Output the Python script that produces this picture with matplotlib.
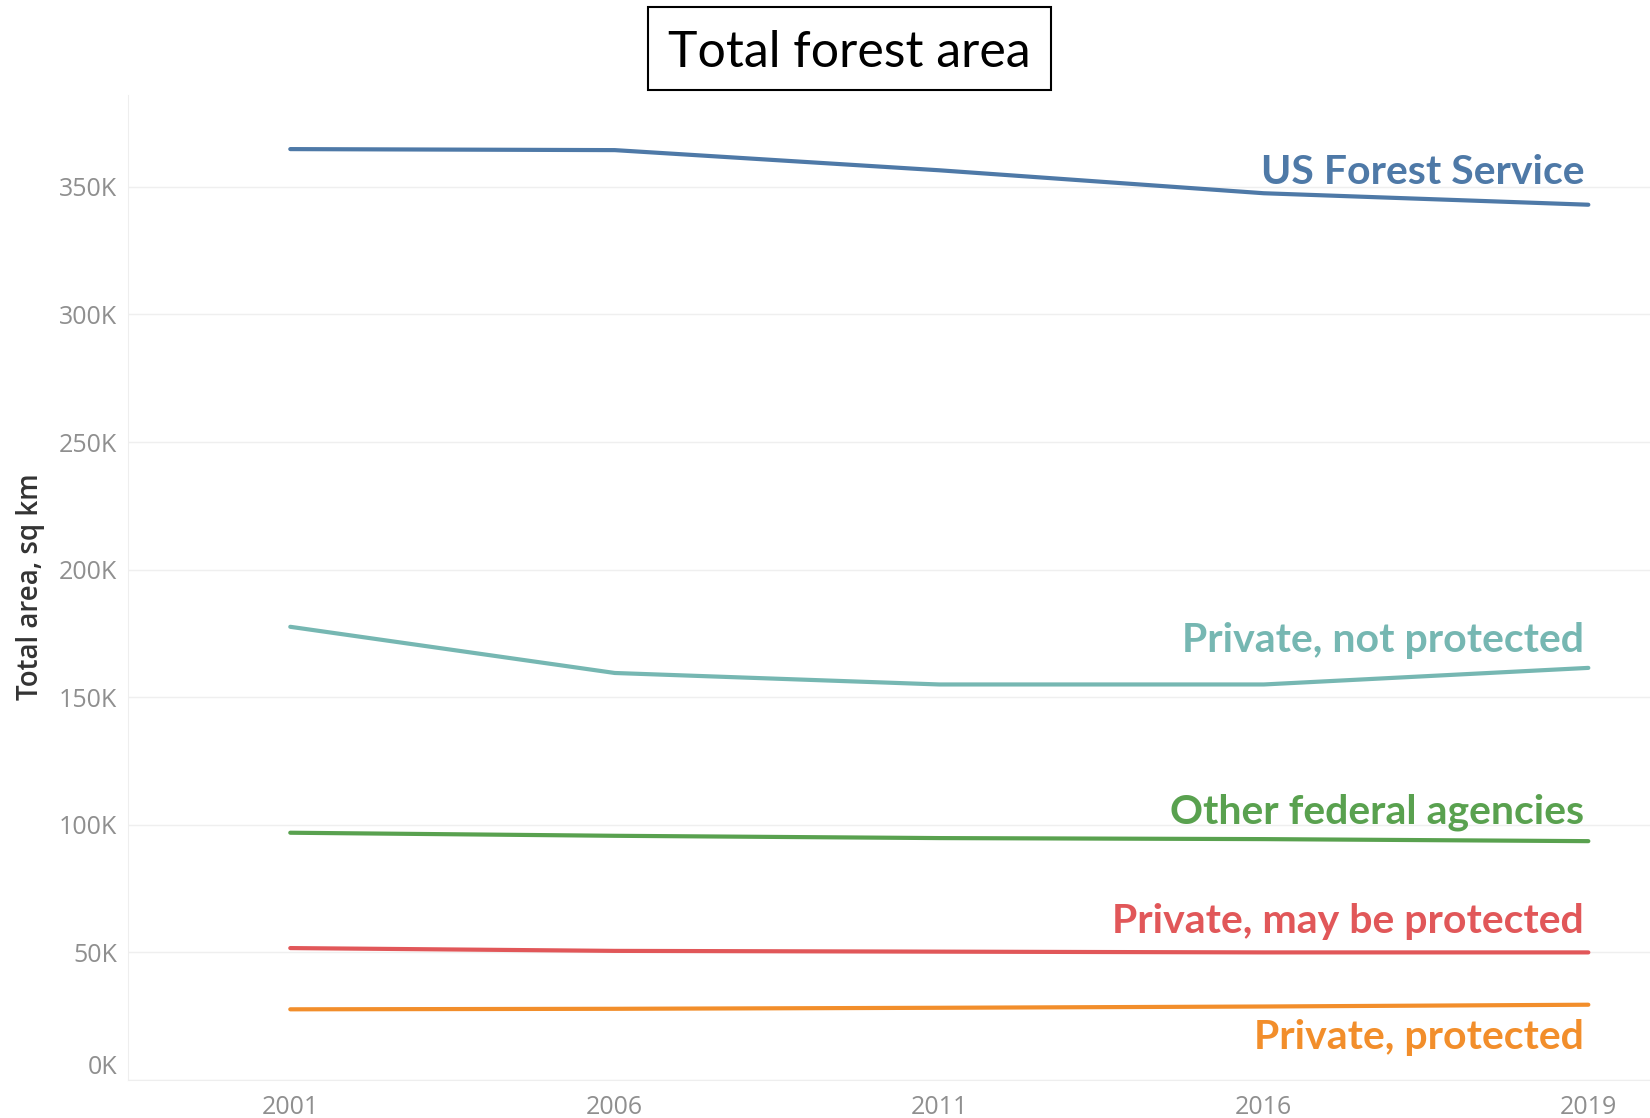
import numpy as np
import matplotlib.pyplot as plt
from matplotlib.patches import Rectangle

years = ['2001', '2006', '2011', '2016', '2019']

us_forest_service = [364.8, 364.4, 356.5, 347.5, 343.0]
private_not_protected = [177.6, 159.5, 155.0, 155.0, 161.5]
other_federal = [96.9, 95.7, 94.8, 94.4, 93.6]
private_may_be_protected = [51.7, 50.6, 50.3, 50.0, 50.0]
private_protected = [27.7, 27.9, 28.3, 28.8, 29.5]

names = ['US Forest Service', 'Private, not protected', 'Other federal agencies',
         'Private, may be protected', 'Private, protected']
colors = ['#4e79a7', '#76b7b2', '#59a14f', '#e15759', '#f28e2b']
series = [us_forest_service, private_not_protected, other_federal,
          private_may_be_protected, private_protected]
# label above the line end, except the last one which sits below
label_dy = [23, 19.5, 20.5, 22, -23.5]

yticks = [0, 50, 100, 150, 200, 250, 300, 350]

fig = plt.figure(figsize=(16.5, 11.18), dpi=100)
ax = fig.add_axes([128/1650, 38/1118, 1 - 128/1650, (1080 - 95)/1118])

x = np.arange(len(years))
for vals, name, c, dy in zip(series, names, colors, label_dy):
    ax.plot(x, np.array(vals) * 1000, color=c, lw=3, solid_capstyle='round')
    ax.annotate(name, xy=(x[-1], vals[-1] * 1000), xytext=(-3, dy),
                textcoords='offset points', ha='right', va='center',
                color=c, fontsize=29.5, fontweight='bold', family='Lato')

ax.set_xlim(-0.5, 4.19)
ax.set_ylim(0, 386000)
ax.set_xticks(x)
ax.set_xticklabels(years)
ax.set_yticks([v * 1000 for v in yticks])
ax.set_yticklabels([f'{v}K' for v in yticks])
ax.tick_params(length=0, colors='#8f8f8f', labelsize=18)
ax.tick_params(axis='x', pad=11)
ax.tick_params(axis='y', pad=8)
for lab in ax.get_xticklabels() + ax.get_yticklabels():
    lab.set_family('Open Sans')
ax.get_yticklabels()[0].set_verticalalignment('bottom')

ax.grid(axis='y', color='#efefef', lw=1)
ax.set_axisbelow(True)
for s in ['top', 'right']:
    ax.spines[s].set_visible(False)
for s in ['left', 'bottom']:
    ax.spines[s].set_color('#eeeeee')

fig.text(31/1650, 1 - 587/1118, 'Total area, sq km', rotation=90, ha='center',
         va='center', fontsize=20, fontweight='semibold', color='#333333',
         family='Open Sans')

fig.patches.append(Rectangle((648/1650, 1 - 90/1118), 403/1650, 83/1118,
                             transform=fig.transFigure, fill=False,
                             ec='black', lw=1.5))
fig.text(849.5/1650, 1 - 53/1118, 'Total forest area', ha='center',
         va='center', fontsize=36, family='Lato', color='black')

fig.savefig('out.png', dpi=100)
